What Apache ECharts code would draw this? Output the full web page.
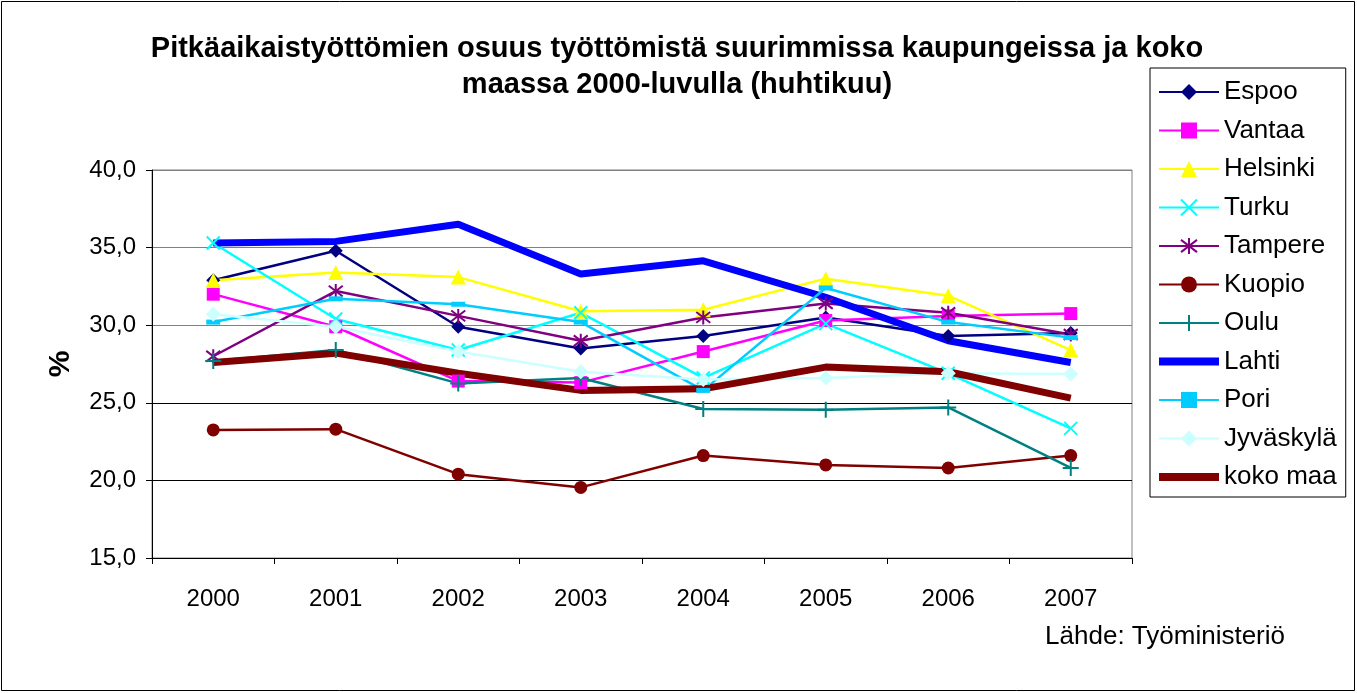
<!DOCTYPE html>
<html>
  <head>
    <meta charset="UTF-8" />
    <title>Pitkäaikaistyöttömien osuus</title>
    <script src="https://cdn.jsdelivr.net/npm/echarts/dist/echarts.min.js"></script>
    <style>
      body {
        padding: 0;
        margin: 0;
        background: #fff;
      }
      #main {
        width: 1357px;
        height: 693px;
      }
    </style>
  </head>
  <body>
    <div id="main"></div>
    <script type="text/javascript">
      // vuodet
      var years = ["2000", "2001", "2002", "2003", "2004", "2005", "2006", "2007"];

      // osuudet (%), luettu kuvasta
      var espoo = [32.9, 34.8, 29.9, 28.5, 29.3, 30.5, 29.3, 29.5];
      var vantaa = [32.0, 29.9, 26.4, 26.3, 28.3, 30.3, 30.6, 30.75];
      var helsinki = [32.9, 33.4, 33.1, 30.9, 31.0, 33.0, 31.9, 28.4];
      var turku = [35.3, 30.4, 28.4, 30.8, 26.6, 30.1, 26.9, 23.35];
      var tampere = [28.0, 32.2, 30.6, 29.0, 30.5, 31.4, 30.8, 29.4];
      var kuopio = [23.25, 23.3, 20.4, 19.55, 21.6, 21.0, 20.8, 21.6];
      var oulu = [27.7, 28.4, 26.25, 26.6, 24.6, 24.55, 24.7, 20.8];
      var lahti = [35.3, 35.4, 36.5, 33.3, 34.15, 31.8, 29.0, 27.6];
      var pori = [30.2, 31.7, 31.35, 30.2, 25.8, 32.4, 30.2, 29.2];
      var jyvaskyla = [30.7, 29.9, 28.3, 27.0, 26.5, 26.6, 26.9, 26.85];
      var kokoMaa = [27.6, 28.2, 26.9, 25.8, 25.9, 27.3, 27.0, 25.3];

      var names = ["Espoo", "Vantaa", "Helsinki", "Turku", "Tampere", "Kuopio", "Oulu", "Lahti", "Pori", "Jyväskylä", "koko maa"];

      var FONT = "Liberation Sans, Arial, sans-serif";
      var THICK = "path://M0,0L60,0L60,8L0,8Z";

      function line(name, data, color, symbol, size, extra) {
        var s = {
          name: name,
          type: "line",
          data: data,
          color: color,
          symbol: symbol,
          symbolSize: size,
          showAllSymbol: true,
          lineStyle: { color: color, width: 2.5 },
          itemStyle: { color: color }
        };
        if (extra) {
          for (var k in extra) s[k] = extra[k];
        }
        return s;
      }

      var strokeStyle = function(color) {
        return { color: color, borderColor: color, borderWidth: 2 };
      };

      var legendText = {
        fontFamily: FONT,
        fontSize: 26,
        fontWeight: "normal",
        color: "#000",
        lineHeight: 28
      };

      var legendData = names.map(function(n) {
        if (n === "Lahti" || n === "koko maa") {
          return {
            name: n,
            icon: THICK,
            symbolKeepAspect: true,
            itemStyle: { borderWidth: 0 },
            textStyle: legendText
          };
        }
        return { name: n, textStyle: legendText };
      });

      var chart = echarts.init(document.getElementById("main"));
      var option = {
        animation: false,
        backgroundColor: "#fff",
        title: {
          text:
            "Pitkäaikaistyöttömien osuus työttömistä suurimmissa kaupungeissa ja koko\nmaassa 2000-luvulla (huhtikuu)",
          left: 672,
          top: 26,
          textAlign: "center",
          textStyle: {
            fontFamily: FONT,
            fontSize: 29,
            fontWeight: "bold",
            color: "#000",
            lineHeight: 36
          }
        },
        legend: {
          orient: "vertical",
          left: 1150,
          top: 68,
          padding: [10, 9, 6, 8],
          itemGap: 10.5,
          itemWidth: 60,
          itemHeight: 20,
          borderColor: "#000",
          borderWidth: 1,
          data: legendData,
          textStyle: legendText
        },
        grid: {
          left: 152,
          top: 170,
          width: 980,
          height: 388,
          show: true,
          borderColor: "#808080",
          borderWidth: 1
        },
        xAxis: {
          type: "category",
          data: years,
          boundaryGap: true,
          axisLine: { lineStyle: { color: "#000", width: 1 } },
          axisTick: { show: true, length: 6, lineStyle: { color: "#000" } },
          axisLabel: {
            fontFamily: FONT,
            fontSize: 24,
            color: "#000",
            margin: 29
          }
        },
        yAxis: {
          type: "value",
          min: 15,
          max: 40,
          interval: 5,
          name: "%",
          nameLocation: "middle",
          nameGap: 76,
          nameRotate: 90,
          nameTextStyle: {
            fontFamily: FONT,
            fontSize: 30,
            fontWeight: "bold",
            color: "#000"
          },
          axisLine: { show: true, lineStyle: { color: "#000", width: 1 } },
          axisTick: { show: true, length: 6, lineStyle: { color: "#000" } },
          axisLabel: {
            fontFamily: FONT,
            fontSize: 24,
            color: "#000",
            margin: 16,
            formatter: function(v) {
              return v.toFixed(1).replace(".", ",");
            }
          },
          splitLine: {
            lineStyle: {
              color: ["#000", "#000", "#000", "#808080", "#808080", "#808080"],
              width: 1
            }
          }
        },
        graphic: [
          {
            type: "rect",
            shape: { x: 1.5, y: 1.5, width: 1353, height: 689 },
            style: { fill: "none", stroke: "#000", lineWidth: 1 },
            silent: true
          },
          {
            type: "text",
            right: 72,
            top: 624,
            style: {
              text: "Lähde: Työministeriö",
              fontFamily: FONT,
              fontSize: 26,
              fill: "#000"
            }
          }
        ],
        series: [
          line("Espoo", espoo, "#000080", "diamond", 14),
          line("Vantaa", vantaa, "#FF00FF", "rect", 13),
          line("Helsinki", helsinki, "#FFFF00", "triangle", 15),
          line("Turku", turku, "#00FFFF", "path://M0,0L10,10M10,0L0,10", 13, {
            itemStyle: strokeStyle("#00FFFF")
          }),
          line(
            "Tampere",
            tampere,
            "#800080",
            "path://M0,0L10,10M10,0L0,10M5,-1.5L5,11.5",
            14,
            { itemStyle: strokeStyle("#800080") }
          ),
          line("Kuopio", kuopio, "#800000", "circle", 13),
          line("Oulu", oulu, "#008080", "path://M5,0L5,10M0,5L10,5", 16, {
            itemStyle: strokeStyle("#008080")
          }),
          line("Lahti", lahti, "#0000FF", "none", 1, {
            lineStyle: { color: "#0000FF", width: 7 }
          }),
          line("Pori", pori, "#00CCFF", "rect", [14, 5]),
          line("Jyväskylä", jyvaskyla, "#CCFFFF", "diamond", 15),
          line("koko maa", kokoMaa, "#800000", "none", 1, {
            lineStyle: { color: "#800000", width: 7 }
          })
        ]
      };
      chart.setOption(option);
    </script>
  </body>
</html>
